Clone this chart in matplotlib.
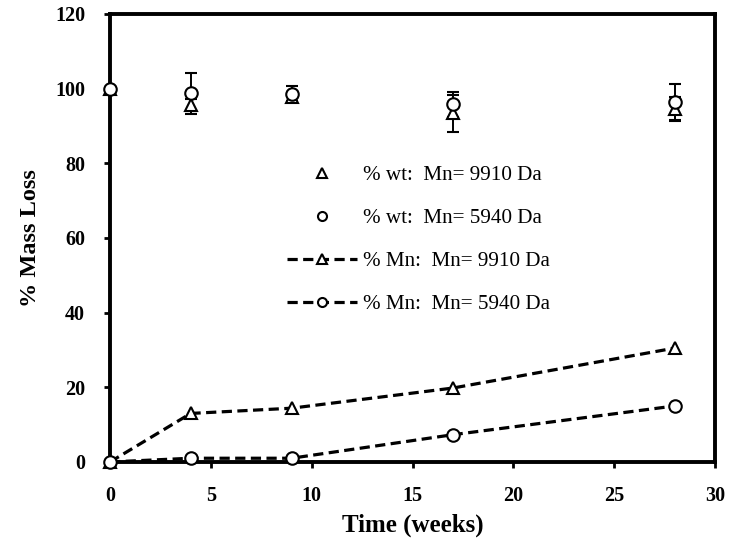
import matplotlib
matplotlib.use("Agg")
import matplotlib.pyplot as plt

# Time points (weeks)
weeks = [0, 4, 9, 17, 28]

# Mass loss by weight (%), with standard deviations
wt_9910 = [100, 95.6, 97.7, 93.4, 94.5]
wt_9910_err = [0, 1.5, 1.0, 5.0, 3.3]
wt_5940 = [100, 98.7, 98.5, 95.8, 96.5]
wt_5940_err = [0, 5.6, 2.2, 3.3, 4.8]

# Loss in molecular weight Mn (%)
mn_9910 = [0, 13.0, 14.4, 19.8, 30.5]
mn_5940 = [0, 1.0, 1.0, 7.3, 15.0]

labels = ["% wt:  Mn= 9910 Da", "% wt:  Mn= 5940 Da",
          "% Mn:  Mn= 9910 Da", "% Mn:  Mn= 5940 Da"]

serif = ["Liberation Serif", "DejaVu Serif"]
plt.rcParams["font.family"] = serif

fig = plt.figure(figsize=(7.35, 5.48), dpi=100)
ax = fig.add_axes([0.1497, 0.157, 0.8231, 0.8175])

mk = dict(markerfacecolor="white", markeredgecolor="black", markeredgewidth=1.5,
          clip_on=False, zorder=3)

h1 = ax.errorbar(weeks, wt_9910, yerr=wt_9910_err, fmt="^", markersize=9,
                 ecolor="black", elinewidth=1.4, capsize=4.5, capthick=1.4, **mk)
h2 = ax.errorbar(weeks, wt_5940, yerr=wt_5940_err, fmt="o", markersize=9,
                 ecolor="black", elinewidth=1.4, capsize=4.5, capthick=1.4, **mk)
h3, = ax.plot(weeks, mn_9910, linestyle=(0, (3.2, 1.7)), color="black",
              linewidth=2.3, marker="^", markersize=9, **mk)
h4, = ax.plot(weeks, mn_5940, linestyle=(0, (3.2, 1.7)), color="black",
              linewidth=2.3, marker="o", markersize=9, **mk)

ax.set_xlim(0, 30)
ax.set_ylim(0, 120)
ax.set_xticks(range(0, 31, 5))
ax.set_yticks(range(0, 121, 20))

for s in ax.spines.values():
    s.set_linewidth(2.8)
ax.tick_params(direction="out", length=4, width=2, labelsize=14.5)
ax.tick_params(axis="x", pad=13)
ax.tick_params(axis="y", pad=14)
for lab in ax.get_xticklabels() + ax.get_yticklabels():
    lab.set_fontweight("bold")

ax.set_xlabel("Time (weeks)", fontsize=18, fontweight="bold", labelpad=6)
ax.set_ylabel("% Mass Loss", fontsize=17.5, fontweight="bold", labelpad=10)

leg = ax.legend([h1[0], h2[0], h3, h4], labels, loc="upper left",
                bbox_to_anchor=(0.293, 0.662), frameon=False, fontsize=15.2,
                numpoints=1, handlelength=3.3, handletextpad=0.28,
                labelspacing=1.1, borderaxespad=0, borderpad=0)
for line in leg.get_lines():
    line.set_markersize(6.5)

fig.savefig("out.png", dpi=100)
